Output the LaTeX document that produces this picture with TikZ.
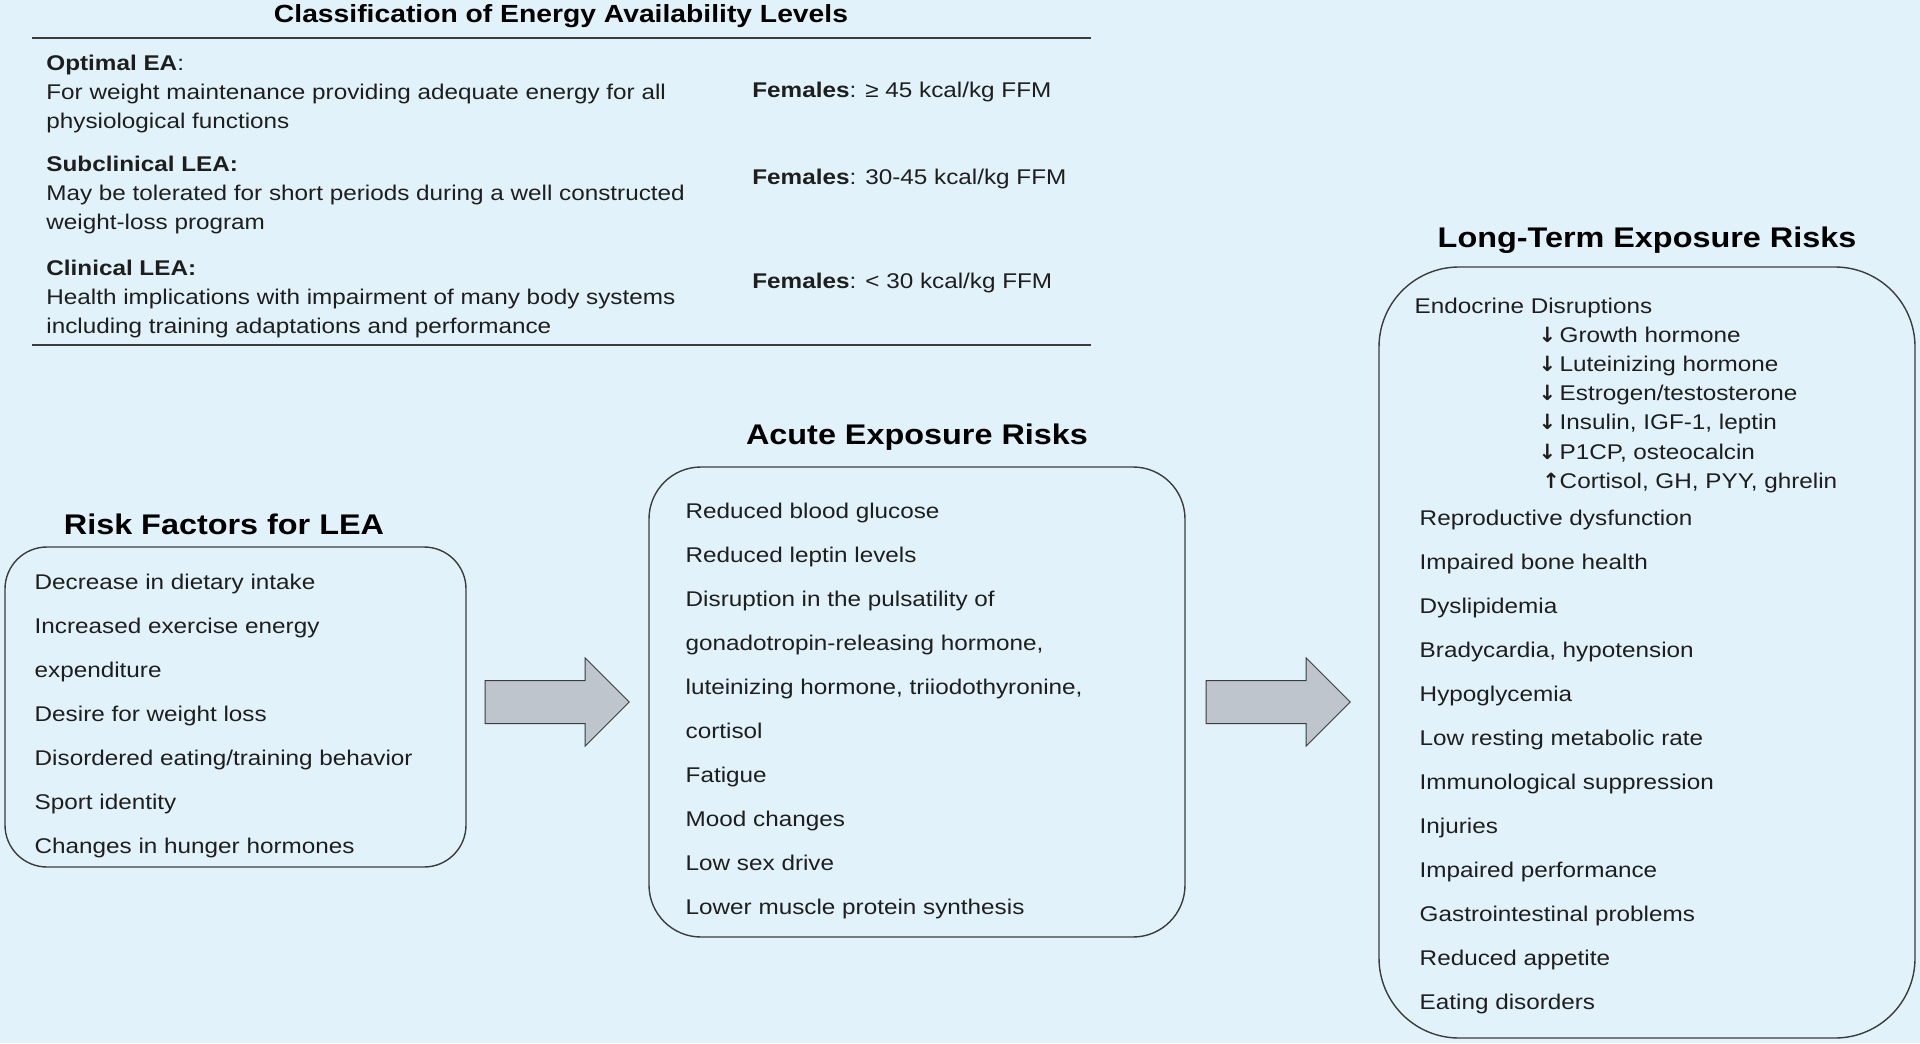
\documentclass[tikz,border=0pt]{standalone}
\usepackage{fontspec}
\setmainfont{Liberation Sans}[FakeStretch=1.14]
\newfontfamily\arrowfont{DejaVu Sans Bold}
\usetikzlibrary{shapes.arrows, positioning}
\definecolor{bgblue}{HTML}{E1F2FA}
\definecolor{edge}{HTML}{3C3C3C}
\definecolor{arrowgray}{HTML}{BEC5CC}
\definecolor{ink}{HTML}{1E1E1E}
\tikzstyle{rbox} = [rectangle,
			draw = edge,
			line width = 0.7pt,
			fill = bgblue,
			inner sep = 0pt]
\tikzstyle{ltext} = [rectangle,
			inner sep = 0pt,
			text = ink,
			align = left,
			font = \fontsize{10.65}{22}\selectfont]
\tikzstyle{ttext} = [ltext,
			font = \fontsize{10.65}{14.5}\selectfont]
\tikzstyle{sechead} = [inner sep = 0pt,
			font = \bfseries\fontsize{14.2}{17}\selectfont]
\tikzstyle{toptitle} = [inner sep = 0pt,
			anchor = base,
			font = \bfseries\fontsize{12.4}{15}\selectfont]
\tikzstyle{bigarrow} = [single arrow,
			draw = edge,
			fill = arrowgray,
			line width = 0.5pt,
			minimum height = 72pt,
			minimum width = 43.5pt,
			single arrow head extend = 11.25pt,
			inner xsep = 0pt,
			inner ysep = 10.5pt]
\tikzstyle{hrule} = [draw = edge, line width = 1.4pt]
\newcommand{\hdown}{\hspace*{59.5pt}\makebox[10.5pt][l]{\arrowfont\fontsize{10.5}{10}\selectfont ↓}}
\newcommand{\hup}{\hspace*{59.5pt}\makebox[10.5pt][l]{\,\arrowfont\fontsize{10.5}{10}\selectfont ↑}}

\begin{document}
\begin{tikzpicture}[x=0.5pt, y=-0.5pt]
	\fill [bgblue] (0,0) rectangle (1920,1043);
	% classification table
	\node [toptitle] (classtitle) at (561,23) {Classification of Energy Availability Levels};
	\draw [hrule] (32,38) -- (1091,38);
	\node [ttext, anchor=north west] (optimal) at (46,55) {\textbf{Optimal EA}:\\For weight maintenance providing adequate energy for all\\physiological functions};
	\node [ttext, anchor=north west] (subclin) at (46,156) {\textbf{Subclinical LEA:}\\May be tolerated for short periods during a well constructed\\weight-loss program};
	\node [ttext, anchor=north west] (clin) at (46,260) {\textbf{Clinical LEA:}\\Health implications with impairment of many body systems\\including training adaptations and performance};
	\node [ttext, anchor=base west] (optimal-ffm) at (752,98) {\textbf{Females}: ≥ 45 kcal/kg FFM};
	\node [ttext, anchor=base west] (subclin-ffm) at (752,185) {\textbf{Females}: 30-45 kcal/kg FFM};
	\node [ttext, anchor=base west] (clin-ffm) at (752,288) {\textbf{Females}: < 30 kcal/kg FFM};
	\draw [hrule] (32,345) -- (1091,345);

	% risk boxes
	\node [rbox, rounded corners=21pt, minimum width=230.5pt, minimum height=160pt] (factors) at (235.5,707) {};
	\node [rbox, rounded corners=26pt, minimum width=268pt, minimum height=235pt] (acute) at (917,702) {};
	\node [rbox, rounded corners=40pt, minimum width=268pt, minimum height=385.5pt] (longterm) at (1647,652.5) {};
	\node [sechead, above=6pt of factors, anchor=base, xshift=-5.75pt] (factors-head) {Risk Factors for LEA};
	\node [sechead, above=11pt of acute, anchor=base] (acute-head) {Acute Exposure Risks};
	\node [sechead, above=9.5pt of longterm, anchor=base] (longterm-head) {Long-Term Exposure Risks};
	\node [bigarrow, right=9pt of factors, yshift=2.5pt] (arrow-a) {};
	\node [bigarrow, right=10pt of acute] (arrow-b) {};

	\node [ltext, below right=13.5pt and 15pt of factors.north west] (factors-list) {Decrease in dietary intake\\Increased exercise energy\\expenditure\\Desire for weight loss\\Disordered eating/training behavior\\Sport identity\\Changes in hunger hormones};
	\node [ltext, below right=18pt and 18.5pt of acute.north west] (acute-list) {Reduced blood glucose\\Reduced leptin levels\\Disruption in the pulsatility of\\gonadotropin-releasing hormone,\\luteinizing hormone, triiodothyronine,\\cortisol\\Fatigue\\Mood changes\\Low sex drive\\Lower muscle protein synthesis};
	\node [ltext, below right=15.5pt and 20.5pt of longterm.north west] (longterm-list) {\hspace*{-2.5pt}Endocrine Disruptions\\[-7.4pt]
		\hdown Growth hormone\\[-7.4pt]
		\hdown Luteinizing hormone\\[-7.4pt]
		\hdown Estrogen/testosterone\\[-7.4pt]
		\hdown Insulin, IGF-1, leptin\\[-7.4pt]
		\hdown P1CP, osteocalcin\\[-7.4pt]
		\hup Cortisol, GH, PYY, ghrelin\\[-3.5pt]
		Reproductive dysfunction\\Impaired bone health\\Dyslipidemia\\Bradycardia, hypotension\\Hypoglycemia\\Low resting metabolic rate\\Immunological suppression\\Injuries\\Impaired performance\\Gastrointestinal problems\\Reduced appetite\\Eating disorders};
\end{tikzpicture}
\end{document}
